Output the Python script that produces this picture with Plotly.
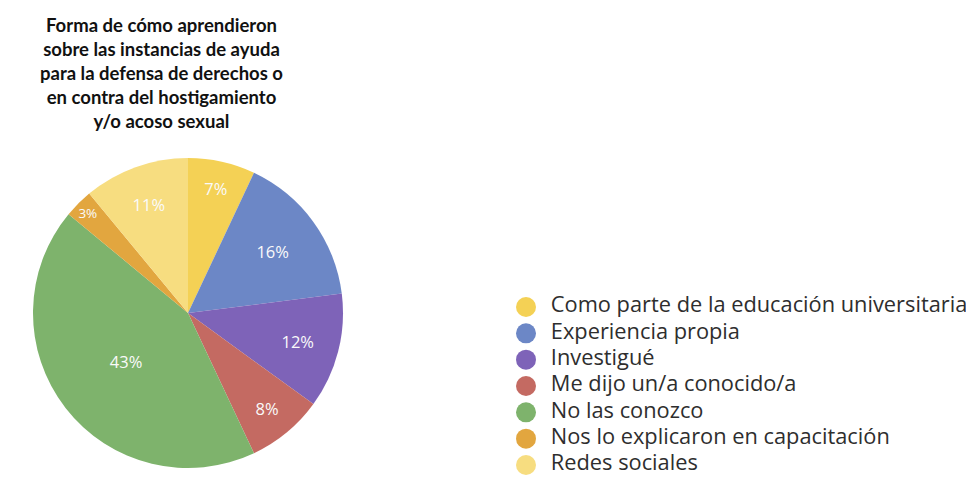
import plotly.graph_objects as go

# categories and shares (%)
labels = [
    "Como parte de la educación universitaria",
    "Experiencia propia",
    "Investigué",
    "Me dijo un/a conocido/a",
    "No las conozco",
    "Nos lo explicaron en capacitación",
    "Redes sociales",
]
values = [7, 16, 12, 8, 43, 3, 11]
colors = ["#F4D155", "#6C87C6", "#7E63B8", "#C46A62", "#7EB36C", "#E2A63F", "#F7DD80"]

title_lines = [
    "Forma de cómo aprendieron",
    "sobre las instancias de ayuda",
    "para la defensa de derechos o",
    "en contra del hostigamiento",
    "y/o acoso sexual",
]

# page has an 8px body margin, so the figure sits at (8, 8)
W, H = 966, 477

fig = go.Figure()

fig.add_trace(go.Pie(
    labels=labels,
    values=values,
    sort=False,
    direction="clockwise",
    rotation=0,
    marker=dict(colors=colors, line=dict(width=0)),
    texttemplate="%{percent:.0%}",
    textposition="inside",
    insidetextorientation="horizontal",
    textfont=dict(family="Open Sans", size=16.5, color="#FAFAFA"),
    domain=dict(x=[25 / W, 335 / W], y=[1 - 460 / H, 1 - 150 / H]),
    showlegend=False,
    hoverinfo="label+percent",
))

# legend drawn as a column of circles on a hidden category axis
fig.add_trace(go.Scatter(
    x=[0] * len(labels),
    y=labels,
    mode="markers+text",
    marker=dict(size=20, color=colors),
    text=["  " + l for l in labels],
    textposition="middle right",
    textfont=dict(family="Open Sans", size=21.8, color="#2E2E2E"),
    cliponaxis=False,
    showlegend=False,
    hoverinfo="skip",
))

row = (457 - 299) / 6
top = 299 - row / 2
bottom = 457 + row / 2

fig.update_layout(
    width=W,
    height=H,
    margin=dict(l=0, r=0, t=0, b=0),
    paper_bgcolor="white",
    plot_bgcolor="rgba(0,0,0,0)",
    xaxis=dict(domain=[518 / W, 1], range=[0, 1], visible=False, fixedrange=True),
    yaxis=dict(domain=[1 - bottom / H, 1 - top / H], type="category",
               range=[len(labels) - 0.5, -0.5], visible=False, fixedrange=True),
    annotations=[dict(
        text="<b>" + "<br>".join(title_lines) + "</b>",
        xref="paper", yref="paper",
        x=153 / W, y=1 - 4 / H,
        xanchor="center", yanchor="top",
        showarrow=False, align="center",
        font=dict(family="Lato", size=18.5, color="#111111"),
    )],
)

fig.write_html("out.html")
